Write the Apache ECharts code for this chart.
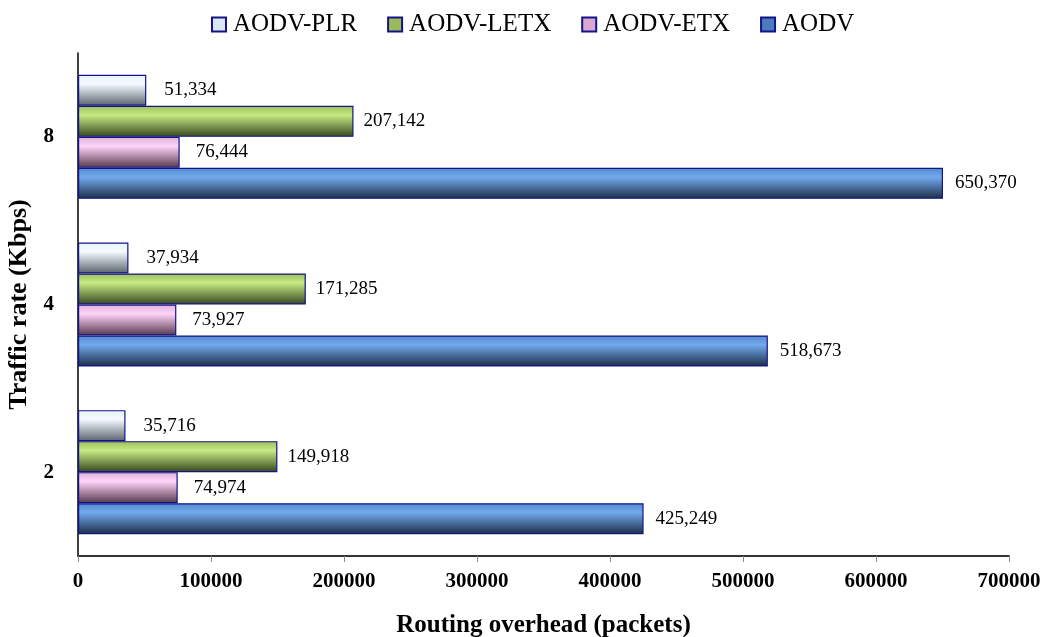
<!DOCTYPE html>
<html>
<head>
<meta charset="utf-8">
<script src="https://cdn.jsdelivr.net/npm/echarts@6/dist/echarts.min.js"></script>
<style>
  html, body { margin: 0; padding: 0; background: #fff; }
  #chart { width: 1042px; height: 637px; }
</style>
</head>
<body>
<div id="chart"></div>
<script>
// Traffic rates (Kbps), bottom to top
const categories = ['2', '4', '8'];

// Routing overhead (packets) per protocol
const aodv = [425249, 518673, 650370];
const aodvEtx = [74974, 73927, 76444];
const aodvLetx = [149918, 171285, 207142];
const aodvPlr = [35716, 37934, 51334];

const xTicks = { min: 0, max: 700000, interval: 100000 };

const FONT = '"Liberation Serif", "Times New Roman", serif';

function grad(top, hi, bottom) {
  return new echarts.graphic.LinearGradient(0, 0, 0, 1, [
    { offset: 0, color: top },
    { offset: 0.3, color: hi },
    { offset: 1, color: bottom }
  ]);
}

const styles = {
  'AODV': { fill: grad('#5387cc', '#72aaee', '#1c2c44'), icon: '#4a7bbd', dist: 12 },
  'AODV-ETX': { fill: grad('#e0b0d8', '#ffd4f8', '#55384c'), icon: '#d8a8d0', dist: 16 },
  'AODV-LETX': { fill: grad('#9cbf58', '#c6ea84', '#36461e'), icon: '#9bbb59', dist: 10 },
  'AODV-PLR': { fill: grad('#e8f2fc', '#f4faff', '#59636c'), icon: '#dce6f2', dist: 18 }
};

function makeSeries(name, values) {
  const s = styles[name];
  return {
    name: name,
    type: 'bar',
    data: values,
    barGap: '0%',
    barCategoryGap: '26%',
    itemStyle: { color: s.fill, borderColor: '#14148a', borderWidth: 1.2 },
    label: {
      show: true,
      position: 'right',
      distance: s.dist,
      fontFamily: FONT,
      fontSize: 19,
      color: '#000',
      formatter: p => p.value.toLocaleString('en-US')
    }
  };
}

const legendNames = ['AODV-PLR', 'AODV-LETX', 'AODV-ETX', 'AODV'];

const chart = echarts.init(document.getElementById('chart'), null, { renderer: 'canvas' });
chart.setOption({
  animation: false,
  backgroundColor: '#fff',
  legend: {
    top: 7,
    left: 206,
    itemGap: 30,
    itemWidth: 14,
    itemHeight: 14,
    textStyle: { fontFamily: FONT, fontSize: 25, color: '#000', padding: [0, 0, 0, 2] },
    data: legendNames.map(n => ({
      name: n,
      icon: 'rect',
      itemStyle: { color: styles[n].icon, borderColor: '#14148a', borderWidth: 2 }
    }))
  },
  grid: { left: 78, right: 33, top: 53, bottom: 81, containLabel: false, outerBoundsMode: 'none' },
  xAxis: {
    type: 'value',
    min: xTicks.min,
    max: xTicks.max,
    interval: xTicks.interval,
    splitLine: { show: false },
    axisLine: { show: true, lineStyle: { color: '#333', width: 2 } },
    axisTick: { show: true, length: 6, lineStyle: { color: '#888' } },
    axisLabel: {
      fontFamily: FONT, fontSize: 21, fontWeight: 'bold', color: '#000', margin: 15,
      formatter: v => String(v)
    },
    name: 'Routing overhead (packets)',
    nameLocation: 'middle',
    nameGap: 57,
    nameTextStyle: { fontFamily: FONT, fontSize: 25, fontWeight: 'bold', color: '#000' }
  },
  yAxis: {
    type: 'category',
    data: categories,
    axisLine: { show: true, lineStyle: { color: '#000', width: 1.5 } },
    axisTick: { show: false },
    axisLabel: { fontFamily: FONT, fontSize: 21, fontWeight: 'bold', color: '#000', margin: 24 },
    name: 'Traffic rate (Kbps)',
    nameLocation: 'middle',
    nameGap: 41,
    nameTextStyle: { fontFamily: FONT, fontSize: 26, fontWeight: 'bold', color: '#000' }
  },
  // First series sits at the top of each group
  series: [
    makeSeries('AODV-PLR', aodvPlr),
    makeSeries('AODV-LETX', aodvLetx),
    makeSeries('AODV-ETX', aodvEtx),
    makeSeries('AODV', aodv)
  ]
});
</script>
</body>
</html>
